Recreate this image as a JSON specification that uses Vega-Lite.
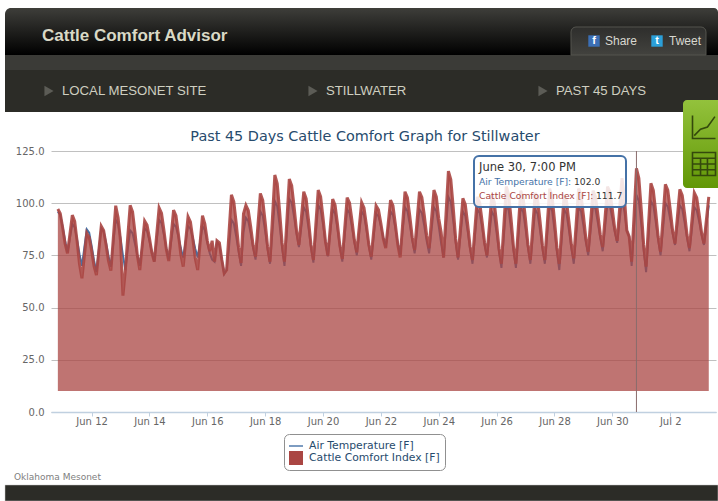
{
"$schema":"https://vega.github.io/schema/vega-lite/v6.json",
"width":665,"height":261,
"autosize":{"type":"none"},
"padding":{"left":51,"top":151,"right":2,"bottom":89},
"background":"#ffffff",
"view":{"stroke":null},
"data":{"values":[
{"t":"2012-06-10T20:00Z","cci":97.2,"air":96},{"t":"2012-06-10T22:00Z","cci":95.1,"air":94.4},{"t":"2012-06-11T00:00Z","cci":88.3,"air":88.6},{"t":"2012-06-11T02:00Z","cci":80.7,"air":82},{"t":"2012-06-11T04:00Z","cci":76,"air":76.5},{"t":"2012-06-11T06:00Z","cci":85.2,"air":83.2},
{"t":"2012-06-11T08:00Z","cci":94.3,"air":90},{"t":"2012-06-11T10:00Z","cci":91.3,"air":88.4},{"t":"2012-06-11T12:00Z","cci":81.6,"air":82.4},{"t":"2012-06-11T14:00Z","cci":70.7,"air":75.6},{"t":"2012-06-11T16:00Z","cci":64,"air":70},{"t":"2012-06-11T18:00Z","cci":74.9,"air":78.8},
{"t":"2012-06-11T20:00Z","cci":85.7,"air":87.5},{"t":"2012-06-11T22:00Z","cci":83.7,"air":85.9},{"t":"2012-06-12T00:00Z","cci":77.3,"air":79.7},{"t":"2012-06-12T02:00Z","cci":70,"air":72.7},{"t":"2012-06-12T04:00Z","cci":65.6,"air":67},{"t":"2012-06-12T06:00Z","cci":77.3,"air":77.5},
{"t":"2012-06-12T08:00Z","cci":89,"air":88},{"t":"2012-06-12T10:00Z","cci":86.9,"air":86.5},{"t":"2012-06-12T12:00Z","cci":80.1,"air":81},{"t":"2012-06-12T14:00Z","cci":72.4,"air":74.7},{"t":"2012-06-12T16:00Z","cci":67.7,"air":69.5},{"t":"2012-06-12T18:00Z","cci":83.2,"air":80.8},
{"t":"2012-06-12T20:00Z","cci":98.8,"air":92},{"t":"2012-06-12T22:00Z","cci":93,"air":90},{"t":"2012-06-13T00:00Z","cci":82,"air":83},{"t":"2012-06-13T02:00Z","cci":55.7,"air":75},{"t":"2012-06-13T04:00Z","cci":68,"air":68},{"t":"2012-06-13T06:00Z","cci":84,"air":78},
{"t":"2012-06-13T08:00Z","cci":99,"air":87},{"t":"2012-06-13T10:00Z","cci":95.9,"air":85.6},{"t":"2012-06-13T12:00Z","cci":86,"air":80.5},{"t":"2012-06-13T14:00Z","cci":74.8,"air":74.8},{"t":"2012-06-13T16:00Z","cci":68,"air":70},{"t":"2012-06-13T18:00Z","cci":79.8,"air":79},
{"t":"2012-06-13T20:00Z","cci":91.5,"air":88},{"t":"2012-06-13T22:00Z","cci":89.5,"air":86.7},{"t":"2012-06-14T00:00Z","cci":83.3,"air":81.9},{"t":"2012-06-14T02:00Z","cci":76.3,"air":76.5},{"t":"2012-06-14T04:00Z","cci":72,"air":72},{"t":"2012-06-14T06:00Z","cci":84.9,"air":82},
{"t":"2012-06-14T08:00Z","cci":97.8,"air":92},{"t":"2012-06-14T10:00Z","cci":95.2,"air":90.5},{"t":"2012-06-14T12:00Z","cci":87.1,"air":84.8},{"t":"2012-06-14T14:00Z","cci":77.9,"air":78.3},{"t":"2012-06-14T16:00Z","cci":72.3,"air":73},{"t":"2012-06-14T18:00Z","cci":84.5,"air":81.5},
{"t":"2012-06-14T20:00Z","cci":96.7,"air":90},{"t":"2012-06-14T22:00Z","cci":94,"air":88.7},{"t":"2012-06-15T00:00Z","cci":85.3,"air":83.9},{"t":"2012-06-15T02:00Z","cci":75.6,"air":78.5},{"t":"2012-06-15T04:00Z","cci":69.6,"air":74},{"t":"2012-06-15T06:00Z","cci":81.6,"air":81.5},
{"t":"2012-06-15T08:00Z","cci":93.5,"air":89},{"t":"2012-06-15T10:00Z","cci":91,"air":87.8},{"t":"2012-06-15T12:00Z","cci":82.8,"air":83.3},{"t":"2012-06-15T14:00Z","cci":73.6,"air":78.2},{"t":"2012-06-15T16:00Z","cci":68,"air":74},{"t":"2012-06-15T18:00Z","cci":81,"air":81.5},
{"t":"2012-06-15T20:00Z","cci":94,"air":89},{"t":"2012-06-15T22:00Z","cci":90,"air":87},{"t":"2012-06-16T00:00Z","cci":82,"air":81},{"t":"2012-06-16T02:00Z","cci":77,"air":76},{"t":"2012-06-16T04:00Z","cci":82,"air":73},{"t":"2012-06-16T06:00Z","cci":72,"air":72},
{"t":"2012-06-16T08:00Z","cci":82,"air":81.5},{"t":"2012-06-16T10:00Z","cci":81,"air":80},{"t":"2012-06-16T12:00Z","cci":73,"air":73},{"t":"2012-06-16T14:00Z","cci":66.5,"air":66},{"t":"2012-06-16T16:00Z","cci":68,"air":68},{"t":"2012-06-16T18:00Z","cci":86,"air":79},
{"t":"2012-06-16T20:00Z","cci":104,"air":92},{"t":"2012-06-16T22:00Z","cci":100.7,"air":90.3},{"t":"2012-06-17T00:00Z","cci":90.3,"air":83.9},{"t":"2012-06-17T02:00Z","cci":78.6,"air":76.6},{"t":"2012-06-17T04:00Z","cci":71.4,"air":70},{"t":"2012-06-17T06:00Z","cci":95,"air":86},
{"t":"2012-06-17T08:00Z","cci":99,"air":93},{"t":"2012-06-17T10:00Z","cci":96.5,"air":91.4},{"t":"2012-06-17T12:00Z","cci":88.7,"air":85.4},{"t":"2012-06-17T14:00Z","cci":79.8,"air":78.6},{"t":"2012-06-17T16:00Z","cci":74.4,"air":73},{"t":"2012-06-17T18:00Z","cci":89.6,"air":84.5},
{"t":"2012-06-17T20:00Z","cci":104.7,"air":96},{"t":"2012-06-17T22:00Z","cci":101.4,"air":94},{"t":"2012-06-18T00:00Z","cci":91,"air":86.5},{"t":"2012-06-18T02:00Z","cci":79.2,"air":78},{"t":"2012-06-18T04:00Z","cci":72,"air":71},{"t":"2012-06-18T06:00Z","cci":92.8,"air":86},
{"t":"2012-06-18T08:00Z","cci":113.5,"air":101},{"t":"2012-06-18T10:00Z","cci":109.4,"air":98.5},{"t":"2012-06-18T12:00Z","cci":96.1,"air":89.2},{"t":"2012-06-18T14:00Z","cci":81.1,"air":78.7},{"t":"2012-06-18T16:00Z","cci":72,"air":70},{"t":"2012-06-18T18:00Z","cci":91.8,"air":86},
{"t":"2012-06-18T20:00Z","cci":111.6,"air":102},{"t":"2012-06-18T22:00Z","cci":108.4,"air":100.2},{"t":"2012-06-19T00:00Z","cci":98.3,"air":93.3},{"t":"2012-06-19T02:00Z","cci":87,"air":85.4},{"t":"2012-06-19T04:00Z","cci":80,"air":79},{"t":"2012-06-19T06:00Z","cci":92.8,"air":88.5},
{"t":"2012-06-19T08:00Z","cci":105.5,"air":98},{"t":"2012-06-19T10:00Z","cci":102.2,"air":95.9},{"t":"2012-06-19T12:00Z","cci":91.8,"air":87.9},{"t":"2012-06-19T14:00Z","cci":80,"air":78.9},{"t":"2012-06-19T16:00Z","cci":72.8,"air":71.5},{"t":"2012-06-19T18:00Z","cci":89.6,"air":85.3},
{"t":"2012-06-19T20:00Z","cci":106.3,"air":99},{"t":"2012-06-19T22:00Z","cci":103.2,"air":97},{"t":"2012-06-20T00:00Z","cci":93.1,"air":89.7},{"t":"2012-06-20T02:00Z","cci":81.8,"air":81.4},{"t":"2012-06-20T04:00Z","cci":74.9,"air":74.5},{"t":"2012-06-20T06:00Z","cci":88.5,"air":85.8},
{"t":"2012-06-20T08:00Z","cci":102,"air":97},{"t":"2012-06-20T10:00Z","cci":99.1,"air":95},{"t":"2012-06-20T12:00Z","cci":89.9,"air":87.5},{"t":"2012-06-20T14:00Z","cci":79.6,"air":79},{"t":"2012-06-20T16:00Z","cci":73.3,"air":72},{"t":"2012-06-20T18:00Z","cci":88,"air":84.5},
{"t":"2012-06-20T20:00Z","cci":102.7,"air":97},{"t":"2012-06-20T22:00Z","cci":100.1,"air":95.2},{"t":"2012-06-21T00:00Z","cci":91.7,"air":88.6},{"t":"2012-06-21T02:00Z","cci":82.3,"air":81.2},{"t":"2012-06-21T04:00Z","cci":76.5,"air":75},{"t":"2012-06-21T06:00Z","cci":88.5,"air":85.5},
{"t":"2012-06-21T08:00Z","cci":100.4,"air":96},{"t":"2012-06-21T10:00Z","cci":97.8,"air":94.2},{"t":"2012-06-21T12:00Z","cci":89.5,"air":87.3},{"t":"2012-06-21T14:00Z","cci":80.1,"air":79.4},{"t":"2012-06-21T16:00Z","cci":74.4,"air":73},{"t":"2012-06-21T18:00Z","cci":86.6,"air":84},
{"t":"2012-06-21T20:00Z","cci":98.8,"air":95},{"t":"2012-06-21T22:00Z","cci":96.8,"air":93.7},{"t":"2012-06-22T00:00Z","cci":90.3,"air":88.9},{"t":"2012-06-22T02:00Z","cci":83,"air":83.5},{"t":"2012-06-22T04:00Z","cci":78.5,"air":79},{"t":"2012-06-22T06:00Z","cci":90,"air":87.5},
{"t":"2012-06-22T08:00Z","cci":101.5,"air":96},{"t":"2012-06-22T10:00Z","cci":98.8,"air":94.3},{"t":"2012-06-22T12:00Z","cci":90,"air":88},{"t":"2012-06-22T14:00Z","cci":80.1,"air":80.9},{"t":"2012-06-22T16:00Z","cci":74,"air":75},{"t":"2012-06-22T18:00Z","cci":89.8,"air":86.5},
{"t":"2012-06-22T20:00Z","cci":105.5,"air":98},{"t":"2012-06-22T22:00Z","cci":102.7,"air":96.2},{"t":"2012-06-23T00:00Z","cci":93.8,"air":89.6},{"t":"2012-06-23T02:00Z","cci":83.7,"air":82.2},{"t":"2012-06-23T04:00Z","cci":77.6,"air":76},{"t":"2012-06-23T06:00Z","cci":91.6,"air":86.5},
{"t":"2012-06-23T08:00Z","cci":105.5,"air":97},{"t":"2012-06-23T10:00Z","cci":102.8,"air":95.3},{"t":"2012-06-23T12:00Z","cci":94.2,"air":89},{"t":"2012-06-23T14:00Z","cci":84.4,"air":81.9},{"t":"2012-06-23T16:00Z","cci":78.5,"air":76},{"t":"2012-06-23T18:00Z","cci":92.4,"air":87},
{"t":"2012-06-23T20:00Z","cci":106.3,"air":98},{"t":"2012-06-23T22:00Z","cci":103.1,"air":96.1},{"t":"2012-06-24T00:00Z","cci":92.7,"air":88.9},{"t":"2012-06-24T02:00Z","cci":86,"air":80.7},{"t":"2012-06-24T04:00Z","cci":74,"air":74},{"t":"2012-06-24T06:00Z","cci":94.7,"air":88.5},
{"t":"2012-06-24T08:00Z","cci":115.4,"air":103},{"t":"2012-06-24T10:00Z","cci":111.3,"air":100.6},{"t":"2012-06-24T12:00Z","cci":98,"air":91.6},{"t":"2012-06-24T14:00Z","cci":83.1,"air":81.4},{"t":"2012-06-24T16:00Z","cci":74,"air":73},{"t":"2012-06-24T18:00Z","cci":88.2,"air":84.5},
{"t":"2012-06-24T20:00Z","cci":102.3,"air":96},{"t":"2012-06-24T22:00Z","cci":99.4,"air":94},{"t":"2012-06-25T00:00Z","cci":89.9,"air":86.5},{"t":"2012-06-25T02:00Z","cci":79.3,"air":78},{"t":"2012-06-25T04:00Z","cci":72.8,"air":71},{"t":"2012-06-25T06:00Z","cci":87.9,"air":84},
{"t":"2012-06-25T08:00Z","cci":103,"air":97},{"t":"2012-06-25T10:00Z","cci":100.2,"air":95.2},{"t":"2012-06-25T12:00Z","cci":91.2,"air":88.3},{"t":"2012-06-25T14:00Z","cci":81.2,"air":80.4},{"t":"2012-06-25T16:00Z","cci":75,"air":74},{"t":"2012-06-25T18:00Z","cci":89.5,"air":85},
{"t":"2012-06-25T20:00Z","cci":104,"air":96},{"t":"2012-06-25T22:00Z","cci":100.7,"air":93.8},{"t":"2012-06-26T00:00Z","cci":90.1,"air":85.7},{"t":"2012-06-26T02:00Z","cci":78.3,"air":76.6},{"t":"2012-06-26T04:00Z","cci":71,"air":69},{"t":"2012-06-26T06:00Z","cci":89.5,"air":84},
{"t":"2012-06-26T08:00Z","cci":108,"air":99},{"t":"2012-06-26T10:00Z","cci":104.3,"air":96.6},{"t":"2012-06-26T12:00Z","cci":92.5,"air":87.6},{"t":"2012-06-26T14:00Z","cci":79.1,"air":77.4},{"t":"2012-06-26T16:00Z","cci":71,"air":69},{"t":"2012-06-26T18:00Z","cci":88.5,"air":83.5},
{"t":"2012-06-26T20:00Z","cci":106,"air":98},{"t":"2012-06-26T22:00Z","cci":102.7,"air":95.8},{"t":"2012-06-27T00:00Z","cci":92.1,"air":87.7},{"t":"2012-06-27T02:00Z","cci":80.1,"air":78.6},{"t":"2012-06-27T04:00Z","cci":72.8,"air":71},{"t":"2012-06-27T06:00Z","cci":88.9,"air":84},
{"t":"2012-06-27T08:00Z","cci":105,"air":97},{"t":"2012-06-27T10:00Z","cci":101.8,"air":94.9},{"t":"2012-06-27T12:00Z","cci":91.5,"air":87.1},{"t":"2012-06-27T14:00Z","cci":79.9,"air":78.3},{"t":"2012-06-27T16:00Z","cci":72.8,"air":71},{"t":"2012-06-27T18:00Z","cci":89.9,"air":85},
{"t":"2012-06-27T20:00Z","cci":107,"air":99},{"t":"2012-06-27T22:00Z","cci":103.4,"air":96.5},{"t":"2012-06-28T00:00Z","cci":91.9,"air":87.2},{"t":"2012-06-28T02:00Z","cci":78.9,"air":76.7},{"t":"2012-06-28T04:00Z","cci":71,"air":68},{"t":"2012-06-28T06:00Z","cci":87.5,"air":82.5},
{"t":"2012-06-28T08:00Z","cci":104,"air":97},{"t":"2012-06-28T10:00Z","cci":101,"air":94.9},{"t":"2012-06-28T12:00Z","cci":91.2,"air":87.1},{"t":"2012-06-28T14:00Z","cci":80.3,"air":78.3},{"t":"2012-06-28T16:00Z","cci":73.6,"air":71},{"t":"2012-06-28T18:00Z","cci":90.3,"air":84.5},
{"t":"2012-06-28T20:00Z","cci":107,"air":98},{"t":"2012-06-28T22:00Z","cci":104,"air":96.2},{"t":"2012-06-29T00:00Z","cci":94.3,"air":89.3},{"t":"2012-06-29T02:00Z","cci":83.4,"air":81.4},{"t":"2012-06-29T04:00Z","cci":76.8,"air":75},{"t":"2012-06-29T06:00Z","cci":91.4,"air":87},
{"t":"2012-06-29T08:00Z","cci":106,"air":99},{"t":"2012-06-29T10:00Z","cci":103.3,"air":97.2},{"t":"2012-06-29T12:00Z","cci":94.7,"air":90.6},{"t":"2012-06-29T14:00Z","cci":85,"air":83.2},{"t":"2012-06-29T16:00Z","cci":79,"air":77},{"t":"2012-06-29T18:00Z","cci":93.5,"air":88.5},
{"t":"2012-06-29T20:00Z","cci":108,"air":100},{"t":"2012-06-29T22:00Z","cci":105.4,"air":98.5},{"t":"2012-06-30T00:00Z","cci":97.1,"air":92.8},{"t":"2012-06-30T02:00Z","cci":87.7,"air":86.3},{"t":"2012-06-30T04:00Z","cci":82,"air":81},{"t":"2012-06-30T06:00Z","cci":97,"air":91.5},
{"t":"2012-06-30T08:00Z","cci":112,"air":102},{"t":"2012-06-30T10:00Z","cci":103,"air":96},{"t":"2012-06-30T12:00Z","cci":87,"air":87},{"t":"2012-06-30T14:00Z","cci":84,"air":84},{"t":"2012-06-30T16:00Z","cci":72,"air":70},{"t":"2012-06-30T18:00Z","cci":94,"air":88},
{"t":"2012-06-30T20:00Z","cci":116.7,"air":104},{"t":"2012-06-30T22:00Z","cci":112,"air":101},{"t":"2012-07-01T00:00Z","cci":96.9,"air":90},{"t":"2012-07-01T02:00Z","cci":80,"air":77.4},{"t":"2012-07-01T04:00Z","cci":69.6,"air":67},{"t":"2012-07-01T06:00Z","cci":89.6,"air":84},
{"t":"2012-07-01T08:00Z","cci":109.5,"air":101},{"t":"2012-07-01T10:00Z","cci":106.2,"air":98.9},{"t":"2012-07-01T12:00Z","cci":95.8,"air":91.1},{"t":"2012-07-01T14:00Z","cci":84,"air":82.3},{"t":"2012-07-01T16:00Z","cci":76.8,"air":75},{"t":"2012-07-01T18:00Z","cci":92.9,"air":87.5},
{"t":"2012-07-01T20:00Z","cci":109,"air":100},{"t":"2012-07-01T22:00Z","cci":106.2,"air":98.4},{"t":"2012-07-02T00:00Z","cci":97.1,"air":92.4},{"t":"2012-07-02T02:00Z","cci":86.9,"air":85.6},{"t":"2012-07-02T04:00Z","cci":80.7,"air":80},{"t":"2012-07-02T06:00Z","cci":93.7,"air":89.5},
{"t":"2012-07-02T08:00Z","cci":106.6,"air":99},{"t":"2012-07-02T10:00Z","cci":103.8,"air":97.2},{"t":"2012-07-02T12:00Z","cci":94.8,"air":90.6},{"t":"2012-07-02T14:00Z","cci":84.7,"air":83.2},{"t":"2012-07-02T16:00Z","cci":78.5,"air":77},{"t":"2012-07-02T18:00Z","cci":91.8,"air":87.5},
{"t":"2012-07-02T20:00Z","cci":105,"air":98},{"t":"2012-07-02T22:00Z","cci":102.6,"air":96.6},{"t":"2012-07-03T00:00Z","cci":94.8,"air":91.2},{"t":"2012-07-03T02:00Z","cci":86,"air":85},{"t":"2012-07-03T04:00Z","cci":80.7,"air":80},{"t":"2012-07-03T06:00Z","cci":91.9,"air":89.5},
{"t":"2012-07-03T08:00Z","cci":103,"air":99}
]},
"layer":[
{"mark":{"type":"line","strokeWidth":2},
 "encoding":{
  "x":{"field":"t","type":"temporal","scale":{"type":"utc","domain":[1339337947329,1341323982464]},
   "axis":{"title":null,"format":"%b %-d","values":[{"year":2012,"month":6,"date":12,"utc":true},{"year":2012,"month":6,"date":14,"utc":true},{"year":2012,"month":6,"date":16,"utc":true},{"year":2012,"month":6,"date":18,"utc":true},{"year":2012,"month":6,"date":20,"utc":true},{"year":2012,"month":6,"date":22,"utc":true},{"year":2012,"month":6,"date":24,"utc":true},{"year":2012,"month":6,"date":26,"utc":true},{"year":2012,"month":6,"date":28,"utc":true},{"year":2012,"month":6,"date":30,"utc":true},{"year":2012,"month":7,"date":2,"utc":true}],
    "grid":false,"domainColor":"#C0D0E0","domainWidth":1.5,"tickColor":"#C0D0E0","tickSize":4,"labelColor":"#666666","labelFont":"DejaVu Sans","labelFontSize":10,"labelPadding":0,"labelFlush":false}},
  "y":{"field":"air","type":"quantitative","scale":{"domain":[0,125],"nice":false},
   "axis":{"title":null,"values":[0,25,50,75,100,125],"format":".1f","grid":true,"gridColor":"#C0C0C0","gridWidth":1,"domain":false,"ticks":false,"labelColor":"#666666","labelFont":"DejaVu Sans","labelFontSize":10,"labelPadding":7}},
  "color":{"datum":"Air Temperature [F]","type":"nominal","scale":{"domain":["Air Temperature [F]","Cattle Comfort Index [F]"],"range":["#4572A7","#AA4643"]},
   "legend":{"title":null,"orient":"none","legendX":233,"legendY":283,"direction":"vertical","padding":5,"fillColor":"#ffffff","strokeColor":"#909090","cornerRadius":5,"labelColor":"#274b6d","labelFont":"DejaVu Sans","labelFontSize":10.8,"symbolSize":196,"symbolStrokeWidth":0,"symbolOpacity":1,"rowPadding":0,"labelOffset":6,"labelOpacity":1,
    "encoding":{"symbols":{"shape":{"value":{"expr":"datum.value === 'Air Temperature [F]' ? 'M-1,-0.1H1V0.1H-1Z' : 'square'"}},"opacity":{"value":1}}}}}
 }},
{"mark":{"type":"area","opacity":0.75},
 "encoding":{"x":{"field":"t","type":"temporal"},"y":{"field":"cci","type":"quantitative"},"y2":{"datum":10},"color":{"datum":"Cattle Comfort Index [F]","type":"nominal"}}},
{"mark":{"type":"line","strokeWidth":3,"opacity":0.9},
 "encoding":{"x":{"field":"t","type":"temporal"},"y":{"field":"cci","type":"quantitative"},"color":{"datum":"Cattle Comfort Index [F]","type":"nominal"}}},
{"data":{"values":[{"label":"hover"}]},"mark":{"type":"rule","color":"#8a6c6c","strokeWidth":1},
 "encoding":{"x":{"datum":{"year":2012,"month":6,"date":30,"hours":20,"utc":true},"type":"temporal"}}},

{"data":{"values":[{"label":"header"}]},"mark":{"type":"rect","cornerRadiusTopLeft":6,"cornerRadiusTopRight":4,"color":{"x1":0,"y1":0,"x2":0,"y2":1,"gradient":"linear","stops":[{"offset":0,"color":"#3e3e3a"},{"offset":1,"color":"#000000"}]}},
 "encoding":{"x":{"datum":1339200568000,"type":"temporal"},"x2":{"datum":1341329956000},"y":{"datum":193.49,"type":"quantitative"},"y2":{"datum":170.98}}},
{"data":{"values":[{"label":"band"}]},"mark":{"type":"rect","color":"#3b3b37"},
 "encoding":{"x":{"datum":1339200568000,"type":"temporal"},"x2":{"datum":1341329956000},"y":{"datum":170.98,"type":"quantitative"},"y2":{"datum":163.79}}},
{"data":{"values":[{"label":"nav"}]},"mark":{"type":"rect","color":"#2c2c27"},
 "encoding":{"x":{"datum":1339200568000,"type":"temporal"},"x2":{"datum":1341329956000},"y":{"datum":163.79,"type":"quantitative"},"y2":{"datum":143.68}}},
{"data":{"values":[{"label":"footer"}]},"mark":{"type":"rect","color":"#2c2c27","stroke":"#c8c8c8","strokeWidth":0.5},
 "encoding":{"x":{"datum":1339200568000,"type":"temporal"},"x2":{"datum":1341329956000},"y":{"datum":-34.96,"type":"quantitative"},"y2":{"datum":-42.62}}},
{"data":{"values":[{"label":"tab"}]},"mark":{"type":"rect","cornerRadiusTopLeft":5,"cornerRadiusTopRight":5,"stroke":"#55554f","strokeWidth":1,"color":{"x1":0,"y1":0,"x2":0,"y2":1,"gradient":"linear","stops":[{"offset":0,"color":"#2e2e2c"},{"offset":1,"color":"#42423e"}]}},
 "encoding":{"x":{"datum":1340890937000,"type":"temporal"},"x2":{"datum":1341294117000},"y":{"datum":184.39,"type":"quantitative"},"y2":{"datum":170.98}}},
{"data":{"values":[{"label":"facebook"}]},"mark":{"type":"point","shape":"square","filled":true,"size":130,"color":"#3b6fb5","opacity":1},
 "encoding":{"x":{"datum":1340959627000,"type":"temporal"},"y":{"datum":177.68,"type":"quantitative"}}},
{"data":{"values":[{"label":"twitter"}]},"mark":{"type":"point","shape":"square","filled":true,"size":130,"color":"#2b9fd8","opacity":1},
 "encoding":{"x":{"datum":1341147778000,"type":"temporal"},"y":{"datum":177.68,"type":"quantitative"}}},
{"data":{"values":[{"label":"f"}]},"mark":{"type":"text","align":"center","baseline":"middle","font":"Liberation Sans","fontWeight":"bold","fontSize":11,"color":"#ffffff"},
 "encoding":{"x":{"datum":1340959627000,"type":"temporal"},"y":{"datum":177.68,"type":"quantitative"},"text":{"field":"label"}}},
{"data":{"values":[{"label":"t"}]},"mark":{"type":"text","align":"center","baseline":"middle","font":"Liberation Sans","fontWeight":"bold","fontSize":11,"color":"#ffffff"},
 "encoding":{"x":{"datum":1341147778000,"type":"temporal"},"y":{"datum":177.68,"type":"quantitative"},"text":{"field":"label"}}},
{"data":{"values":[{"label":"Cattle Comfort Advisor"}]},"mark":{"type":"text","align":"left","baseline":"middle","font":"Liberation Sans","fontWeight":"bold","fontSize":17,"color":"#d9d9c6"},
 "encoding":{"x":{"datum":1339311069000,"type":"temporal"},"y":{"datum":180.08,"type":"quantitative"},"text":{"field":"label"}}},
{"data":{"values":[{"label":"Share"}]},"mark":{"type":"text","align":"left","baseline":"middle","font":"Liberation Sans","fontSize":12,"color":"#d8d8d0"},
 "encoding":{"x":{"datum":1340992479000,"type":"temporal"},"y":{"datum":177.68,"type":"quantitative"},"text":{"field":"label"}}},
{"data":{"values":[{"label":"Tweet"}]},"mark":{"type":"text","align":"left","baseline":"middle","font":"Liberation Sans","fontSize":12,"color":"#d8d8d0"},
 "encoding":{"x":{"datum":1341183616000,"type":"temporal"},"y":{"datum":177.68,"type":"quantitative"},"text":{"field":"label"}}},
{"data":{"values":[{"label":"tri1"}]},"mark":{"type":"point","shape":"triangle-right","filled":true,"size":110,"color":"#5c5c56","opacity":1},
 "encoding":{"x":{"datum":1339331974000,"type":"temporal"},"y":{"datum":153.74,"type":"quantitative"}}},
{"data":{"values":[{"label":"tri2"}]},"mark":{"type":"point","shape":"triangle-right","filled":true,"size":110,"color":"#5c5c56","opacity":1},
 "encoding":{"x":{"datum":1340120415000,"type":"temporal"},"y":{"datum":153.74,"type":"quantitative"}}},
{"data":{"values":[{"label":"tri3"}]},"mark":{"type":"point","shape":"triangle-right","filled":true,"size":110,"color":"#5c5c56","opacity":1},
 "encoding":{"x":{"datum":1340807315000,"type":"temporal"},"y":{"datum":153.74,"type":"quantitative"}}},
{"data":{"values":[{"label":"LOCAL MESONET SITE"}]},"mark":{"type":"text","align":"left","baseline":"middle","font":"Liberation Sans","fontSize":13.2,"color":"#cfcfc0"},
 "encoding":{"x":{"datum":1339370799000,"type":"temporal"},"y":{"datum":153.74,"type":"quantitative"},"text":{"field":"label"}}},
{"data":{"values":[{"label":"STILLWATER"}]},"mark":{"type":"text","align":"left","baseline":"middle","font":"Liberation Sans","fontSize":13.2,"color":"#cfcfc0"},
 "encoding":{"x":{"datum":1340159240000,"type":"temporal"},"y":{"datum":153.74,"type":"quantitative"},"text":{"field":"label"}}},
{"data":{"values":[{"label":"PAST 45 DAYS"}]},"mark":{"type":"text","align":"left","baseline":"middle","font":"Liberation Sans","fontSize":13.2,"color":"#cfcfc0"},
 "encoding":{"x":{"datum":1340846140000,"type":"temporal"},"y":{"datum":153.74,"type":"quantitative"},"text":{"field":"label"}}},
{"data":{"values":[{"label":"Past 45 Days Cattle Comfort Graph for Stillwater"}]},"mark":{"type":"text","align":"center","baseline":"middle","font":"DejaVu Sans","fontSize":14.4,"color":"#274b6d"},
 "encoding":{"x":{"datum":1340275714000,"type":"temporal"},"y":{"datum":131.7,"type":"quantitative"},"text":{"field":"label"}}},
{"data":{"values":[{"label":"Oklahoma Mesonet"}]},"mark":{"type":"text","align":"left","baseline":"middle","font":"DejaVu Sans","fontSize":9,"color":"#808080"},
 "encoding":{"x":{"datum":1339227446000,"type":"temporal"},"y":{"datum":-31,"type":"quantitative"},"text":{"field":"label"}}},
{"data":{"values":[{"label":"panel"}]},"mark":{"type":"rect","cornerRadiusTopLeft":4,"cornerRadiusBottomLeft":4,"color":{"x1":0,"y1":0,"x2":0,"y2":1,"gradient":"linear","stops":[{"offset":0,"color":"#93c23c"},{"offset":1,"color":"#629706"}]}},
 "encoding":{"x":{"datum":1341225427000,"type":"temporal"},"x2":{"datum":1341329956000},"y":{"datum":149.43,"type":"quantitative"},"y2":{"datum":107.3}}},
{"data":{"values":[{"label":"chart icon"}]},"mark":{"type":"point","filled":false,"size":529,"stroke":"#34490c","strokeWidth":1.6,"opacity":1,"shape":"M-1,-1V1H1M-0.85,0.75L-0.3,0.2L0.3,0L0.95,-0.9"},
 "encoding":{"x":{"datum":1341288144000,"type":"temporal"},"y":{"datum":136.5,"type":"quantitative"}}},
{"data":{"values":[{"label":"table icon"}]},"mark":{"type":"point","filled":false,"size":529,"stroke":"#34490c","strokeWidth":1.6,"opacity":1,"shape":"M-1,-1H1V1H-1ZM-1,-0.5H1M-1,0H1M-1,0.5H1M-0.3,-0.5V1M0.3,-0.5V1"},
 "encoding":{"x":{"datum":1341288144000,"type":"temporal"},"y":{"datum":118.8,"type":"quantitative"}}},

{"data":{"values":[{"label":"tooltip"}]},"mark":{"type":"rect","cornerRadius":5,"color":"#ffffff","fillOpacity":0.85,"stroke":"#4572A7","strokeWidth":2},
 "encoding":{"x":{"datum":1340601245000,"type":"temporal"},"x2":{"datum":1341055196000},"y":{"datum":122.6,"type":"quantitative"},"y2":{"datum":98.18}}},
{"data":{"values":[{"label":"June 30, 7:00 PM"}]},"mark":{"type":"text","align":"left","baseline":"middle","font":"DejaVu Sans","fontSize":11.5,"color":"#333333"},
 "encoding":{"x":{"datum":1340616178000,"type":"temporal"},"y":{"datum":116.86,"type":"quantitative"},"text":{"field":"label"}}},
{"data":{"values":[{"label":"Air Temperature [F]:"}]},"mark":{"type":"text","align":"left","baseline":"middle","font":"DejaVu Sans","fontSize":9.2,"color":"#4572A7"},
 "encoding":{"x":{"datum":1340616178000,"type":"temporal"},"y":{"datum":110.15,"type":"quantitative"},"text":{"field":"label"}}},
{"data":{"values":[{"label":"102.0"}]},"mark":{"type":"text","align":"left","baseline":"middle","font":"DejaVu Sans","fontSize":9.2,"color":"#333333"},
 "encoding":{"x":{"datum":1340899897000,"type":"temporal"},"y":{"datum":110.15,"type":"quantitative"},"text":{"field":"label"}}},
{"data":{"values":[{"label":"Cattle Comfort Index [F]:"}]},"mark":{"type":"text","align":"left","baseline":"middle","font":"DejaVu Sans","fontSize":9.2,"color":"#AA4643"},
 "encoding":{"x":{"datum":1340616178000,"type":"temporal"},"y":{"datum":103.45,"type":"quantitative"},"text":{"field":"label"}}},
{"data":{"values":[{"label":"111.7"}]},"mark":{"type":"text","align":"left","baseline":"middle","font":"DejaVu Sans","fontSize":9.2,"color":"#333333"},
 "encoding":{"x":{"datum":1340965600000,"type":"temporal"},"y":{"datum":103.45,"type":"quantitative"},"text":{"field":"label"}}}
]
}
